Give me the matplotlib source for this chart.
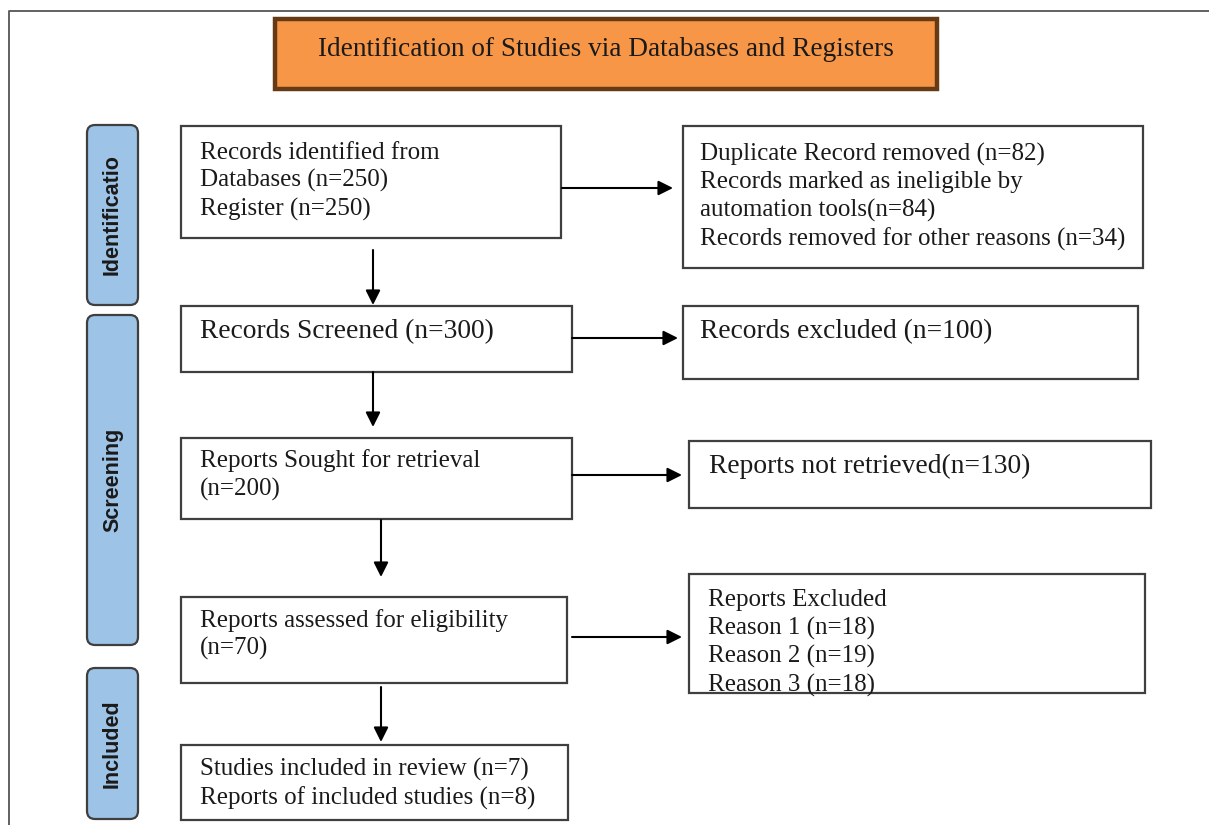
import matplotlib.pyplot as plt
from matplotlib.patches import Rectangle, FancyBboxPatch

# texts and counts of the flow diagram
title = 'Identification of Studies via Databases and Registers'
stages = ['Identificatio', 'Screening', 'Included']

identified_src = ['Databases', 'Register']
identified_n = [250, 250]
removed_lbl = ['Duplicate Record removed ', 'Records marked as ineligible by\nautomation tools',
               'Records removed for other reasons ']
removed_n = [82, 84, 34]
screened_n = 300
excluded_n = 100
sought_n = 200
not_retrieved_n = 130
assessed_n = 70
reasons = ['Reason 1', 'Reason 2', 'Reason 3']
reasons_n = [18, 19, 18]
included_n = [7, 8]

left_texts = [
    'Records identified from\n' + '\n'.join('%s (n=%d)' % (s, n) for s, n in zip(identified_src, identified_n)),
    'Records Screened (n=%d)' % screened_n,
    'Reports Sought for retrieval\n(n=%d)' % sought_n,
    'Reports assessed for eligibility\n(n=%d)' % assessed_n,
    'Studies included in review (n=%d)\nReports of included studies (n=%d)' % tuple(included_n),
]
right_texts = [
    '\n'.join('%s(n=%d)' % (l, n) for l, n in zip(removed_lbl, removed_n)),
    'Records excluded (n=%d)' % excluded_n,
    'Reports not retrieved(n=%d)' % not_retrieved_n,
    'Reports Excluded\n' + '\n'.join('%s (n=%d)' % (r, n) for r, n in zip(reasons, reasons_n)),
]

# layout in pixels (x0, y0, x1, y1), y downward
left_boxes = [(181, 126, 561, 238), (181, 306, 572, 372), (181, 438, 572, 519),
              (181, 597, 567, 683), (181, 745, 568, 820)]
left_text_pos = [(200, 181.5, 18), (200, 332, 19.8), (200, 475, 18),
                 (200, 634.5, 18), (200, 783.5, 18)]
right_boxes = [(683, 126, 1143, 268), (683, 306, 1138, 379), (689, 441, 1151, 508),
               (689, 574, 1145, 693)]
right_text_pos = [(700, 197, 18), (700, 332, 19.8), (709, 466, 19.8), (708, 643, 18)]
stage_boxes = [(87, 125, 138, 305), (87, 315, 138, 645), (87, 668, 138, 819)]
down_arrows = [(373, 250, 305), (373, 372, 427), (381, 520, 577), (381, 687, 742)]
side_arrows = [(188, 562, 673), (338, 572, 678), (475, 572, 682), (637, 572, 682)]

W, H = 1209, 825
fig = plt.figure(figsize=(W / 100, H / 100), dpi=100)
ax = fig.add_axes([0, 0, 1, 1])
ax.set_xlim(0, W)
ax.set_ylim(H, 0)
ax.axis('off')

serif = 'Liberation Serif'
edge = '#3f3f3f'

# outer frame, cut off at the right and bottom
ax.plot([9, 9, W + 5], [H + 5, 11, 11], color='#555555', lw=1.3, solid_capstyle='butt')

# title box
ax.add_patch(Rectangle((275, 19), 662, 70, facecolor='#F79646', edgecolor='#663A14', lw=3.2))
ax.text(606, 49, title, ha='center', va='center', fontsize=19.6, family=serif, color='#1a1a1a')

# stage labels
for (x0, y0, x1, y1), lbl in zip(stage_boxes, stages):
    ax.add_patch(FancyBboxPatch((x0 + 8, y0 + 8), x1 - x0 - 16, y1 - y0 - 16,
                                boxstyle='round,pad=8', facecolor='#9DC3E6', edgecolor=edge, lw=1.6))
    ax.text((x0 + x1) / 2, (y0 + y1) / 2, lbl, rotation=90, ha='center', va='center',
            fontsize=15.5, fontweight='bold', family='Liberation Sans', color='#1a1a1a')

# boxes and texts
for boxes, texts, pos in [(left_boxes, left_texts, left_text_pos), (right_boxes, right_texts, right_text_pos)]:
    for (x0, y0, x1, y1), t, (tx, ty, fs) in zip(boxes, texts, pos):
        r = Rectangle((x0, y0), x1 - x0, y1 - y0, facecolor='white', edgecolor=edge, lw=1.6)
        ax.add_patch(r)
        txt = ax.text(tx, ty, t, ha='left', va='center', fontsize=fs, family=serif,
                      color='#1a1a1a', linespacing=1.31)
        txt.set_clip_path(r)

# arrows
ap = dict(arrowstyle='-|>', mutation_scale=22, lw=1.5, color='black', shrinkA=0, shrinkB=0)
for x, y0, y1 in down_arrows:
    ax.annotate('', xy=(x, y1), xytext=(x, y0), arrowprops=ap)
for y, x0, x1 in side_arrows:
    ax.annotate('', xy=(x1, y), xytext=(x0, y), arrowprops=ap)

fig.savefig('out.png', dpi=100)
